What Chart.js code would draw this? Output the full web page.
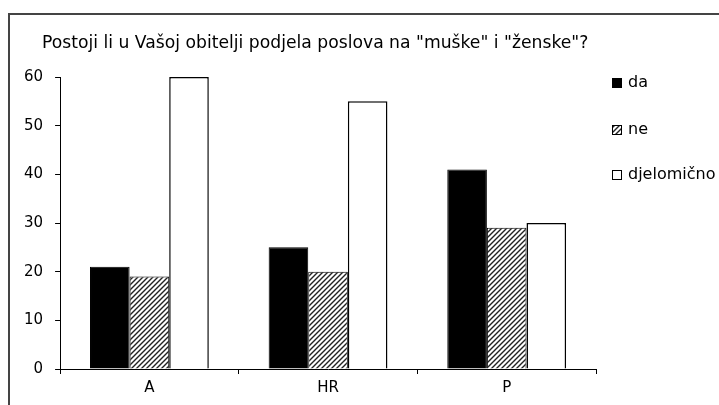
<!DOCTYPE html>
<html>
<head>
<meta charset="utf-8">
<script src="https://cdn.jsdelivr.net/npm/chart.js@4/dist/chart.umd.min.js"></script>
<style>
    html, body { margin: 0; padding: 0; background: #fff; overflow: hidden; }
    #wrap { position: relative; width: 719px; height: 405px; }
    #frame {
        position: absolute; left: 8px; top: 13px;
        width: 740px; height: 420px;
        border: 2px solid #444; box-sizing: border-box;
    }
    canvas { position: absolute; left: 0; top: 0; }
</style>
</head>
<body>
<div id="wrap">
    <div id="frame"></div>
    <canvas id="chart" width="719" height="405"></canvas>
</div>
<script>
const chartTitle = 'Postoji li u Vašoj obitelji podjela poslova na "muške" i "ženske"?';
const categories = ['A', 'HR', 'P'];
const seriesNames = ['da', 'ne', 'djelomično'];
const daValues = [21, 25, 41];
const neValues = [19, 20, 29];
const djelomicnoValues = [60, 55, 30];
const yMin = 0;
const yMax = 60;
const yStep = 10;

const FONT = '"DejaVu Sans", sans-serif';

// diagonal hatch for the "ne" series
function makeHatch() {
    const s = 5;
    const c = document.createElement('canvas');
    c.width = s;
    c.height = s;
    const g = c.getContext('2d');
    g.fillStyle = '#fff';
    g.fillRect(0, 0, s, s);
    g.strokeStyle = '#222';
    g.lineWidth = 1.4;
    g.beginPath();
    g.moveTo(-1, s + 1); g.lineTo(s + 1, -1);
    g.moveTo(-1, 1); g.lineTo(1, -1);
    g.moveTo(s - 1, s + 1); g.lineTo(s + 1, s - 1);
    g.stroke();
    return document.getElementById('chart').getContext('2d').createPattern(c, 'repeat');
}

const hatch = makeHatch();

// title, legend drawn by hand to match the original placement
const decorPlugin = {
    id: 'decor',
    afterDraw(chart) {
        const ctx = chart.ctx;
        ctx.save();
        ctx.fillStyle = '#000';
        ctx.textBaseline = 'middle';
        ctx.textAlign = 'left';
        ctx.font = '17.2px ' + FONT;
        ctx.fillText(chartTitle, 42, 44);

        ctx.font = '16px ' + FONT;
        const rows = [83, 130, 175];
        chart.data.datasets.forEach((ds, i) => {
            const y = rows[i];
            ctx.fillStyle = ds.backgroundColor;
            ctx.fillRect(612, y - 5, 10, 10);
            ctx.strokeStyle = '#000';
            ctx.lineWidth = 1;
            ctx.strokeRect(612.5, y - 4.5, 9, 9);
            ctx.fillStyle = '#000';
            ctx.fillText(ds.label, 628, y);
        });
        ctx.restore();
    }
};

new Chart(document.getElementById('chart'), {
    type: 'bar',
    data: {
        labels: categories,
        datasets: [
            { label: seriesNames[0], data: daValues, backgroundColor: '#000', borderColor: '#000', borderWidth: 1 },
            { label: seriesNames[1], data: neValues, backgroundColor: hatch, borderColor: '#000', borderWidth: 1 },
            { label: seriesNames[2], data: djelomicnoValues, backgroundColor: '#fff', borderColor: '#000', borderWidth: 1.5 }
        ]
    },
    options: {
        responsive: false,
        animation: false,
        layout: { padding: { top: 77, left: 12, right: 123, bottom: 3 } },
        datasets: {
            bar: { categoryPercentage: 0.665, barPercentage: 1 }
        },
        plugins: {
            legend: { display: false },
            title: { display: false },
            tooltip: { enabled: false }
        },
        scales: {
            x: {
                grid: { drawOnChartArea: false, drawTicks: true, tickLength: 5, color: '#000', offset: true },
                border: { display: true, color: '#000', width: 1 },
                ticks: { color: '#000', font: { family: FONT, size: 15 }, padding: 5 }
            },
            y: {
                min: yMin,
                max: yMax,
                grid: { drawOnChartArea: false, drawTicks: true, tickLength: 5, color: '#000' },
                border: { display: true, color: '#000', width: 1 },
                ticks: { stepSize: yStep, color: '#000', font: { family: FONT, size: 15 }, padding: 12 }
            }
        }
    },
    plugins: [decorPlugin]
});
</script>
</body>
</html>
